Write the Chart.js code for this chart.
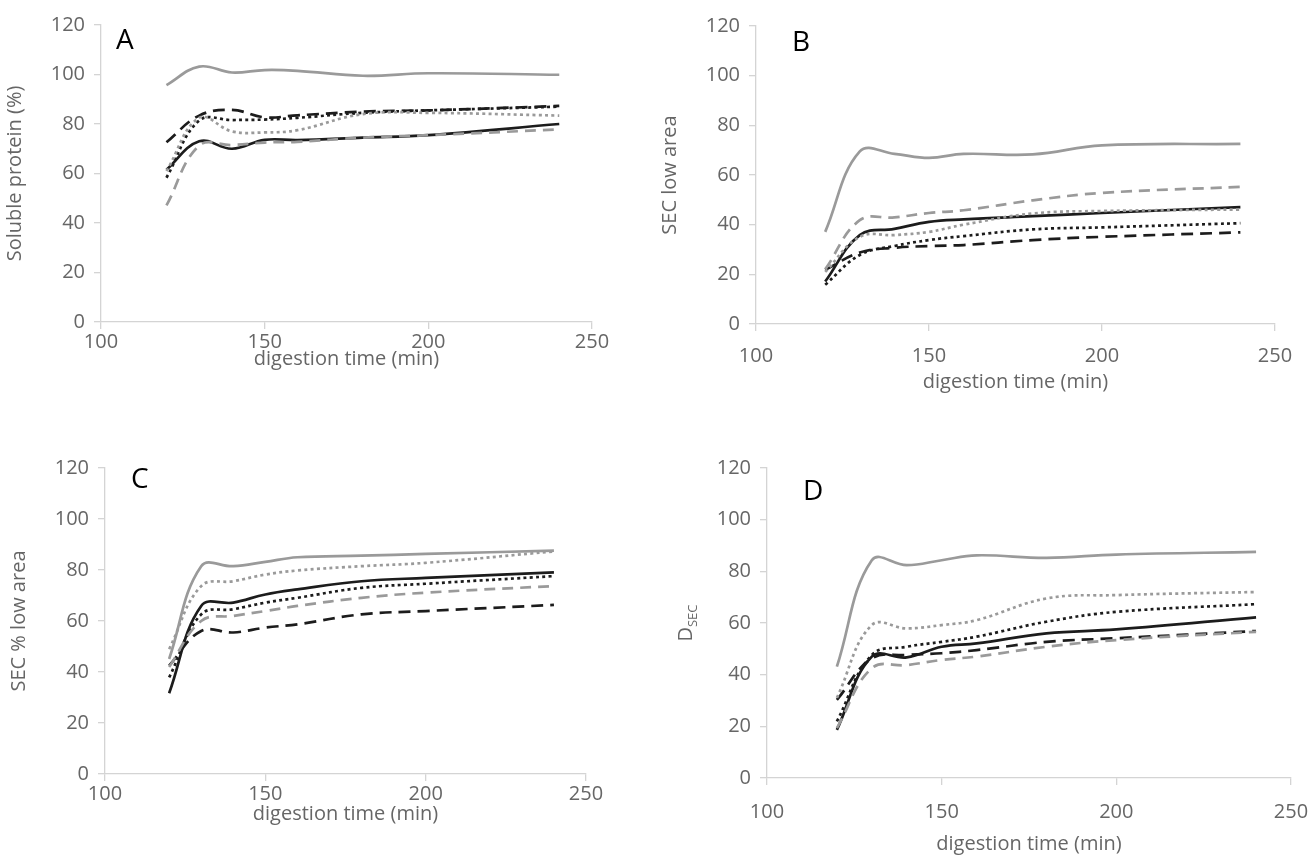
<!DOCTYPE html>
<html>
<head>
<meta charset="utf-8">
<script src="https://cdn.jsdelivr.net/npm/chart.js@4"></script>
<style>
  html, body { margin:0; padding:0; background:#fff; }
  body { width:1312px; height:855px; position:relative; overflow:hidden; font-family:"Open Sans", sans-serif; }
  .wrap { position:absolute; }
  .letter { position:absolute; font-family:"Open Sans", sans-serif; font-size:28px; color:#000; line-height:1; }
</style>
</head>
<body>
<div class="wrap" id="wA"><canvas id="cA"></canvas></div>
<div class="wrap" id="wB"><canvas id="cB"></canvas></div>
<div class="wrap" id="wC"><canvas id="cC"></canvas></div>
<div class="wrap" id="wD"><canvas id="cD"></canvas></div>
<div class="letter" style="left:116px;top:24px;">A</div>
<div class="letter" style="left:792px;top:26px;">B</div>
<div class="letter" style="left:131px;top:463px;">C</div>
<div class="letter" style="left:803px;top:475px;">D</div>
<script>
// ---- data ----
const times = [120, 130, 140, 150, 160, 180, 200, 240];
const xTicks = [100, 150, 200, 250];
const yTicks = [0, 20, 40, 60, 80, 100, 120];

// Panel A: Soluble protein (%)
const A_greySolid  = [95.7, 103.2, 100.8, 101.8, 101.5, 99.5, 100.5, 99.9];
const A_greyDashed = [47.1, 71.3, 71.5, 72.5, 72.8, 74.5, 75.5, 77.8];
const A_greyDotted = [61, 82.5, 77, 76.6, 77.5, 84, 84.5, 83.4];
const A_blackSolid = [61.5, 73, 70, 73.6, 73.5, 74.5, 75.5, 80];
const A_blackDashed = [72.6, 83.4, 85.7, 82.7, 83.5, 85, 85.5, 87.3];
const A_blackDotted = [58.3, 81.4, 81.6, 81.8, 82.5, 84.5, 85.5, 87];

// Panel B: SEC low area
const B_greySolid  = [37.1, 69.5, 68.5, 66.9, 68.5, 68.3, 71.9, 72.5];
const B_greyDashed = [22, 41.8, 42.9, 44.7, 45.8, 49.8, 52.8, 55.2];
const B_greyDotted = [21, 35.1, 35.8, 37.1, 40, 44.5, 45.5, 46.1];
const B_blackSolid = [17.1, 35.8, 38.3, 41.1, 42.1, 43.4, 44.7, 47.1];
const B_blackDashed = [21.8, 28.8, 30.7, 31.4, 31.8, 33.8, 35.1, 36.9];
const B_blackDotted = [15.8, 27.8, 31.4, 33.8, 35.4, 38.1, 38.9, 40.6];

// Panel C: SEC % low area
const C_greySolid  = [45.1, 81.5, 81.5, 83.2, 85, 85.6, 86.3, 87.6];
const C_greyDashed = [42, 60, 62, 63.9, 65.9, 69.1, 71.1, 73.7];
const C_greyDotted = [49, 73.7, 75.6, 78.2, 79.8, 81.5, 82.8, 87.3];
const C_blackSolid = [31.7, 65.9, 67.2, 70.4, 72.4, 75.6, 76.9, 79.1];
const C_blackDashed = [42.5, 56.1, 55.5, 57.4, 58.7, 62.6, 63.9, 66.3];
const C_blackDotted = [37.9, 62.6, 64.6, 67.2, 69.1, 73, 74.6, 77.6];

// Panel D: D_SEC
const D_greySolid  = [43.1, 84.3, 82.4, 84.3, 86.2, 85.2, 86.5, 87.5];
const D_greyDashed = [19.3, 42.5, 43.7, 45.7, 47, 50.8, 53.4, 56.6];
const D_greyDotted = [31, 59.2, 57.9, 59.2, 61.1, 69.5, 70.8, 72];
const D_blackSolid = [18.6, 47, 46.7, 50.8, 52.1, 56, 57.5, 62.2];
const D_blackDashed = [30.2, 46.3, 47.6, 48.3, 49.5, 52.7, 54.1, 56.9];
const D_blackDotted = [21.9, 47.6, 50.8, 52.7, 54.7, 60.5, 64.3, 67.3];

// ---- styles ----
const GREY = '#9a9a9a', BLACK = '#1c1c1c';
const styles = {
  greySolid:  { color: GREY,  dash: [] },
  greyDashed: { color: GREY,  dash: [11, 7] },
  greyDotted: { color: GREY,  dash: [3, 3.3] },
  blackSolid: { color: BLACK, dash: [] },
  blackDashed:{ color: BLACK, dash: [12, 7] },
  blackDotted:{ color: BLACK, dash: [3, 3.3] }
};
const AXIS = '#d4d4d4', LABEL = '#666666';
const FONT = '"Open Sans", sans-serif';
const FS = 20;

function pts(vals) { return times.map((t, i) => ({ x: t, y: vals[i] })); }

function ds(name, vals) {
  const s = styles[name];
  return {
    label: name, data: pts(vals), showLine: true, borderColor: s.color, backgroundColor: s.color,
    borderWidth: 2.7, borderDash: s.dash, pointRadius: 0, tension: 0.4, fill: false
  };
}

const subTitle = {
  id: 'subTitle',
  afterDraw(chart, args, opts) {
    if (!opts || !opts.main) return;
    const ctx = chart.ctx;
    ctx.save();
    ctx.fillStyle = LABEL;
    const cx = opts.x, cy = (chart.chartArea.top + chart.chartArea.bottom) / 2;
    ctx.translate(cx, cy);
    ctx.rotate(-Math.PI / 2);
    ctx.font = FS + 'px ' + FONT;
    const w1 = ctx.measureText(opts.main).width;
    ctx.font = Math.round(FS * 0.65) + 'px ' + FONT;
    const w2 = ctx.measureText(opts.sub).width;
    const start = -(w1 + w2) / 2;
    ctx.textBaseline = 'middle';
    ctx.textAlign = 'left';
    ctx.font = FS + 'px ' + FONT;
    ctx.fillText(opts.main, start, 0);
    ctx.font = Math.round(FS * 0.65) + 'px ' + FONT;
    ctx.fillText(opts.sub, start + w1, 7);
    ctx.restore();
  }
};

function makePanel(id, wrapId, plot, yTitle, series, xTitleH, xTickPad, subOpts) {
  const padL = 100, padT = 20, padR = 40;
  const W = plot.R - plot.L + padL + padR;
  const H = plot.B - plot.T + padT + xTitleH;
  const wrap = document.getElementById(wrapId);
  wrap.style.left = (plot.L - padL) + 'px';
  wrap.style.top = (plot.T - padT) + 'px';
  wrap.style.width = W + 'px';
  wrap.style.height = H + 'px';
  const cv = document.getElementById(id);
  cv.width = W; cv.height = H;
  cv.style.width = W + 'px'; cv.style.height = H + 'px';
  new Chart(cv, {
    type: 'scatter',
    data: { datasets: series },
    plugins: [subTitle],
    options: {
      responsive: false, animation: false,
      layout: { padding: { left: 0, top: padT, right: padR, bottom: 0 } },
      plugins: { legend: { display: false }, tooltip: { enabled: false }, subTitle: subOpts || {} },
      scales: {
        x: {
          type: 'linear', min: 100, max: 250,
          afterFit(s) { s.height = xTitleH; },
          afterBuildTicks(s) { s.ticks = xTicks.map(v => ({ value: v })); },
          grid: { drawOnChartArea: false, color: AXIS, tickLength: 7, lineWidth: 1.3 },
          border: { color: AXIS, width: 1.3 },
          ticks: { color: LABEL, font: { family: FONT, size: FS }, padding: xTickPad, maxRotation: 0 },
          title: { display: true, text: 'digestion time (min)', color: LABEL, font: { family: FONT, size: FS }, padding: { top: 0, bottom: 4 } }
        },
        y: {
          type: 'linear', min: 0, max: 120,
          afterFit(s) { s.width = padL; },
          afterBuildTicks(s) { s.ticks = yTicks.map(v => ({ value: v })); },
          grid: { drawOnChartArea: false, color: AXIS, tickLength: 7, lineWidth: 1.3 },
          border: { color: AXIS, width: 1.3 },
          ticks: { color: LABEL, font: { family: FONT, size: FS }, padding: 9 },
          title: { display: !!yTitle, text: yTitle, color: LABEL, font: { family: FONT, size: FS }, padding: { top: 2, bottom: 2 } }
        }
      }
    }
  });
}

function set(prefix) {
  const src = { A: [A_greySolid, A_greyDashed, A_greyDotted, A_blackSolid, A_blackDashed, A_blackDotted],
                B: [B_greySolid, B_greyDashed, B_greyDotted, B_blackSolid, B_blackDashed, B_blackDotted],
                C: [C_greySolid, C_greyDashed, C_greyDotted, C_blackSolid, C_blackDashed, C_blackDotted],
                D: [D_greySolid, D_greyDashed, D_greyDotted, D_blackSolid, D_blackDashed, D_blackDotted] }[prefix];
  const names = ['greySolid', 'greyDashed', 'greyDotted', 'blackSolid', 'blackDashed', 'blackDotted'];
  return names.map((n, i) => ds(n, src[i]));
}

makePanel('cA', 'wA', { L: 101, R: 592, T: 24, B: 322 }, 'Soluble protein (%)', set('A'), 53, 1, null);
makePanel('cB', 'wB', { L: 756, R: 1275, T: 25, B: 324 }, 'SEC low area', set('B'), 74, 13, null);
makePanel('cC', 'wC', { L: 105, R: 586, T: 467, B: 774 }, 'SEC % low area', set('C'), 56, 1, null);
makePanel('cD', 'wD', { L: 767, R: 1291, T: 467, B: 778 }, '', set('D'), 82, 15, { main: 'D', sub: 'SEC', x: 19 });
</script>
</body>
</html>
